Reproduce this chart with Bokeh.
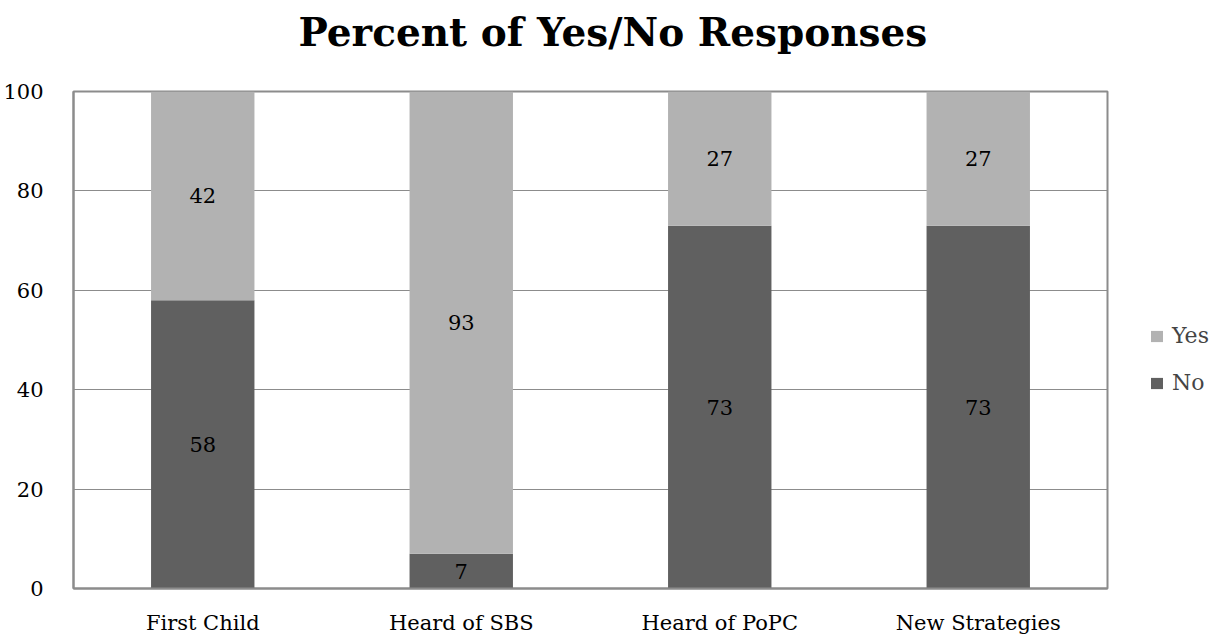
from bokeh.plotting import figure
from bokeh.models import ColumnDataSource, Legend, LegendItem, Range1d, FixedTicker, Title
from bokeh.core.properties import value
from bokeh.embed import file_html
from bokeh.resources import INLINE

categories = ["First Child", "Heard of SBS", "Heard of PoPC", "New Strategies"]
no_vals = [58, 7, 73, 73]
yes_vals = [42, 93, 27, 27]
y_ticks = [0, 20, 40, 60, 80, 100]

FONT = "DejaVu Serif"
YES_C = "#b2b2b2"
NO_C = "#606060"
GRID_C = "#8c8c8c"

src = ColumnDataSource(dict(
    cat=categories,
    No=no_vals,
    Yes=yes_vals,
    no_mid=[v / 2 for v in no_vals],
    yes_mid=[n + y / 2 for n, y in zip(no_vals, yes_vals)],
    no_txt=[str(v) for v in no_vals],
    yes_txt=[str(v) for v in yes_vals],
))

p = figure(x_range=categories, y_range=Range1d(0, 100),
           frame_width=1034, frame_height=497,
           output_backend="svg", toolbar_location=None,
           min_border_left=0, min_border_right=0, min_border_bottom=0, min_border_top=0)

p.title.text = "Percent of Yes/No Responses"
p.title.text_font = FONT
p.title.text_font_size = "39px"
p.title.text_font_style = "bold"
p.title.text_color = "black"
p.title.align = "left"
p.title.offset = 225
p.title.standoff = 12

# thin spacer between title and frame
p.add_layout(Title(text=" ", text_font_size="1px", standoff=28), "above")

rs = p.vbar_stack(["No", "Yes"], x="cat", width=0.4, source=src,
                  color=[NO_C, YES_C], line_color=None)

p.text(x="cat", y="no_mid", text="no_txt", source=src, text_align="center",
       text_baseline="middle", text_font=value(FONT), text_font_size="21px", text_color="black")
p.text(x="cat", y="yes_mid", text="yes_txt", source=src, text_align="center",
       text_baseline="middle", text_font=value(FONT), text_font_size="21px", text_color="black")

legend = Legend(items=[LegendItem(label="Yes", renderers=[rs[1]]),
                       LegendItem(label="No", renderers=[rs[0]])],
                label_text_font=FONT, label_text_font_size="22px",
                glyph_width=15, glyph_height=14, spacing=22, label_standoff=8,
                border_line_color=None, background_fill_alpha=0,
                location=(42, 193), margin=0, padding=0)
p.add_layout(legend, "right")

p.xgrid.grid_line_color = None
p.ygrid.grid_line_color = GRID_C
p.ygrid.grid_line_width = 1
p.yaxis.ticker = FixedTicker(ticks=y_ticks)
p.outline_line_color = GRID_C
p.outline_line_width = 2

for ax in (p.xaxis, p.yaxis):
    ax.major_tick_line_color = None
    ax.minor_tick_line_color = None
    ax.major_label_text_font = FONT
    ax.major_label_text_font_size = "21px"
    ax.major_label_text_color = "black"
    ax.axis_line_color = GRID_C
    ax.axis_line_width = 2
p.yaxis.major_label_standoff = 24
p.xaxis.major_label_standoff = 16
p.x_range.range_padding = 0

open("out.html", "w").write(file_html(p, INLINE))
